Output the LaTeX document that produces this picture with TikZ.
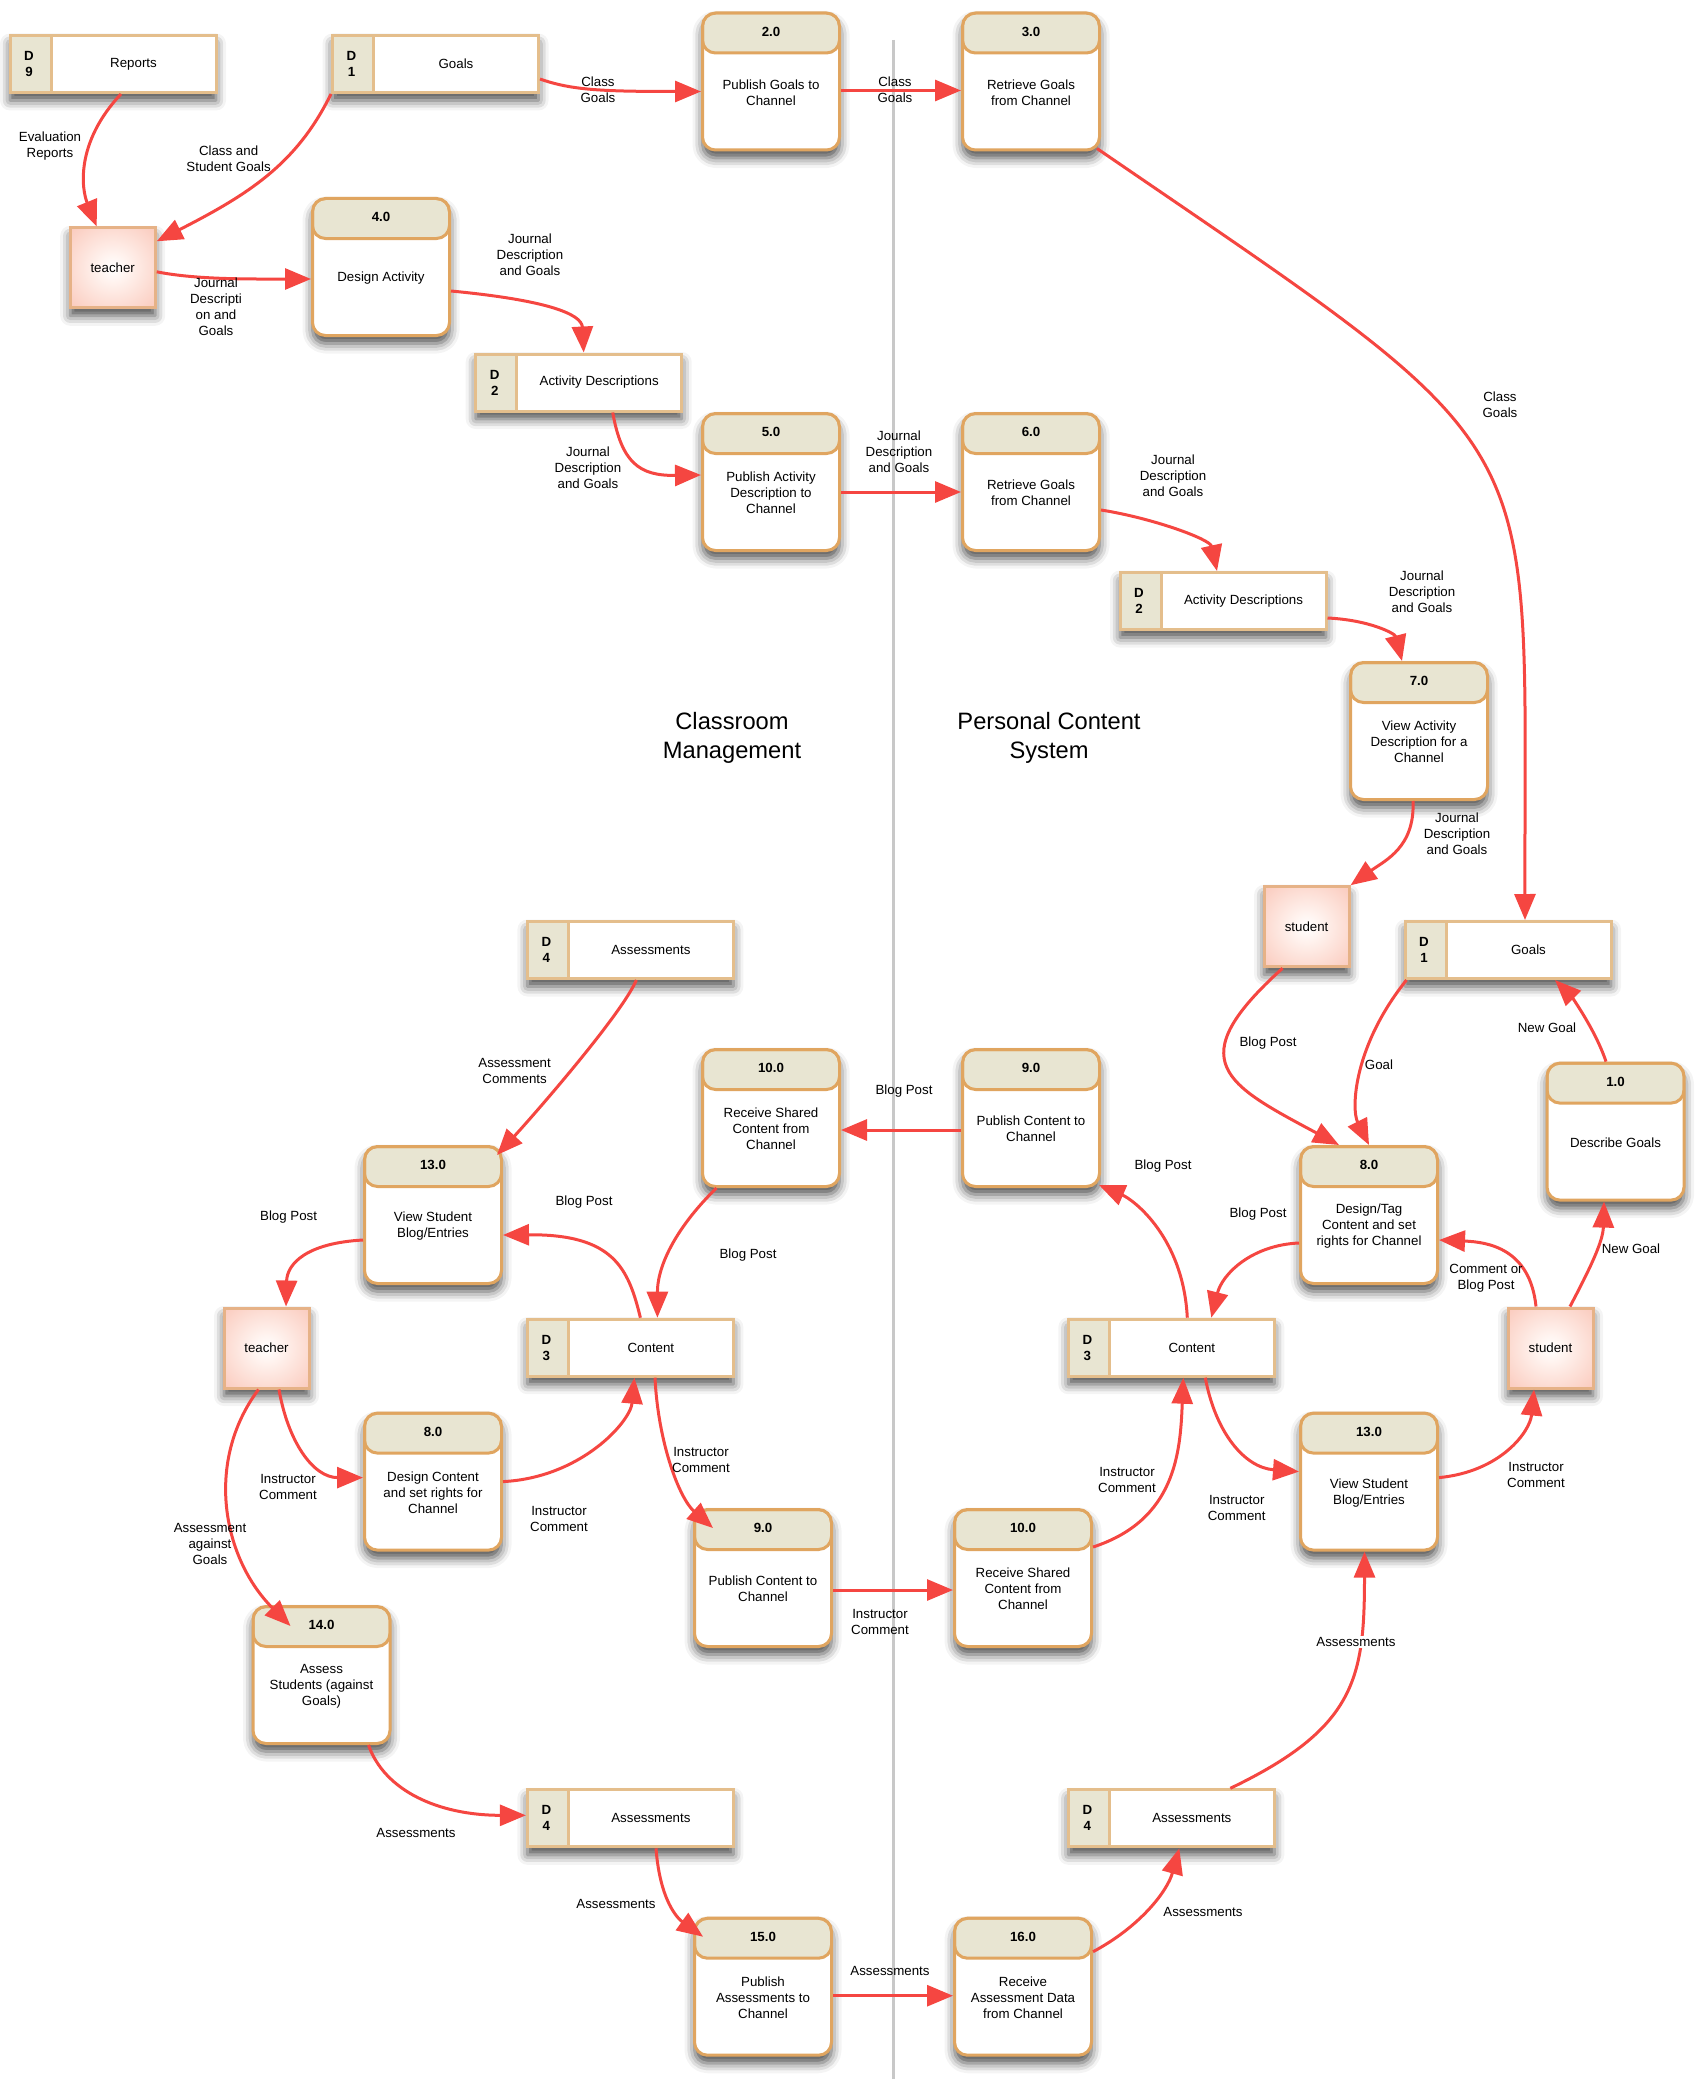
\documentclass[tikz,border=0pt]{standalone}
\usepackage{fontspec}
\setmainfont{Liberation Sans}
\usetikzlibrary{arrows.meta,shadows.blur}

\newlength{\du}
\setlength{\du}{1pt}

\definecolor{proctan}{RGB}{224,165,96}
\definecolor{storetan}{RGB}{228,190,140}
\definecolor{enttan}{RGB}{230,178,135}
\definecolor{prochead}{RGB}{232,229,210}
\definecolor{entpink}{RGB}{250,198,184}
\definecolor{entpinklight}{RGB}{255,244,240}
\definecolor{flowred}{RGB}{245,70,65}
\definecolor{sepgray}{RGB}{200,200,200}

\pgfdeclareradialshading{entshade}{\pgfpoint{0bp}{0bp}}{color(0bp)=(white); color(8bp)=(entpinklight); color(38bp)=(entpink); color(71bp)=(entpink)}

\newcommand{\dfdfont}{\fontsize{13.3}{16}\selectfont}
\newcommand{\dfdtitle}{\fontsize{23.7}{29}\selectfont}

% process: name, position, number, text
\newcommand{\dfdproc}[4]{%
  \node[proc] (#1) at (#2) {};
  \node[procnum] (#1num) at ([yshift=-20\du]#1.north) {#3};
  \node[proctxt] (#1txt) at ([yshift=-11\du]#1.center) {#4};}
% data store: name, position, number, text
\newcommand{\dfdstore}[4]{%
  \node[store] (#1) at (#2) {};
  \node[storeid] (#1id) at ([xshift=20.5\du]#1.west) {D\\#3};
  \node[storetxt] (#1txt) at ([xshift=20.5\du]#1.center) {#4};}

\tikzset{
  dfdshadow/.style={blur shadow={shadow xshift=0pt, shadow yshift=-8\du,
      shadow blur radius=10\du, shadow opacity=70}},
  proc/.style={draw=proctan, line width=3\du, fill=white, rounded corners=13\du,
    minimum width=137\du, minimum height=137\du, inner sep=0pt, dfdshadow,
    path picture={\draw[draw=proctan, line width=3\du, fill=prochead, rounded corners=13\du]
      (path picture bounding box.north west) rectangle
      ([yshift=-40\du]path picture bounding box.north east);}},
  procnum/.style={font=\dfdfont\bfseries, inner sep=0pt},
  proctxt/.style={font=\dfdfont, align=center, inner sep=0pt},
  store/.style={draw=storetan, line width=3\du, fill=white,
    minimum width=206\du, minimum height=57\du, inner sep=0pt, dfdshadow,
    path picture={\fill[prochead] (path picture bounding box.north west) rectangle
      ([xshift=41\du]path picture bounding box.south west);
      \draw[storetan, line width=3\du] ([xshift=41\du]path picture bounding box.north west)
      -- ([xshift=41\du]path picture bounding box.south west);}},
  storeid/.style={font=\dfdfont\bfseries, align=center, inner sep=0pt},
  storetxt/.style={font=\dfdfont, inner sep=0pt},
  entity/.style={draw=enttan, line width=3\du, shading=entshade,
    minimum width=85\du, minimum height=80\du, font=\dfdfont, dfdshadow},
  flow/.style={draw=flowred, line width=3\du, -{Triangle[length=26pt,width=21pt]}},
  flowlbl/.style={font=\dfdfont, align=center, inner sep=1\du},
  paneltitle/.style={font=\dfdtitle, align=center},
  sepline/.style={draw=sepgray, line width=3\du},
}

\begin{document}
\begin{tikzpicture}
\useasboundingbox (0\du,0\du) rectangle (1705\du,-2079\du);

% divider and titles
\coordinate (sepTop) at (893\du,-40\du);
\coordinate (sepBot) at (893\du,-2079\du);
\draw[sepline] (sepTop) -- (sepBot);
\node[paneltitle] (titleClass) at (732\du,-738\du) {Classroom\\Management};
\node[paneltitle] (titlePersonal) at (1049\du,-738\du) {Personal Content\\System};

% stores, processes, entities
\dfdstore{dsReports}{113\du,-64\du}{9}{Reports}
\dfdstore{dsGoalsA}{435.5\du,-64\du}{1}{Goals}
\dfdproc{pubGoals}{771\du,-81.5\du}{2.0}{Publish Goals to\\Channel}
\dfdproc{getGoals}{1031\du,-81.5\du}{3.0}{Retrieve Goals\\from Channel}
\node[entity] (teacherA) at (112.7\du,-267.8\du) {teacher};
\dfdproc{designAct}{381\du,-267\du}{4.0}{Design Activity}
\dfdstore{dsActA}{578.7\du,-382.5\du}{2}{Activity Descriptions}
\dfdproc{pubAct}{771\du,-482\du}{5.0}{Publish Activity\\Description to\\Channel}
\dfdproc{getAct}{1031\du,-482\du}{6.0}{Retrieve Goals\\from Channel}
\dfdstore{dsActB}{1223\du,-601\du}{2}{Activity Descriptions}
\dfdproc{viewAct}{1419\du,-731\du}{7.0}{View Activity\\Description for a\\Channel}
\node[entity] (studentA) at (1306.6\du,-926.7\du) {student};
\dfdstore{dsGoalsB}{1508\du,-950\du}{1}{Goals}
\dfdstore{dsAssessA}{630.4\du,-950\du}{4}{Assessments}
\dfdproc{recvContA}{771\du,-1118\du}{10.0}{Receive Shared\\Content from\\Channel}
\dfdproc{pubContA}{1031\du,-1118\du}{9.0}{Publish Content to\\Channel}
\dfdproc{tagCont}{1369\du,-1215\du}{8.0}{Design/Tag\\Content and set\\rights for Channel}
\dfdproc{descGoals}{1615.5\du,-1131.6\du}{1.0}{Describe Goals}
\dfdproc{viewBlogA}{433\du,-1215\du}{13.0}{View Student\\Blog/Entries}
\node[entity] (teacherB) at (266.5\du,-1348\du) {teacher};
\dfdstore{dsContA}{630.4\du,-1347.7\du}{3}{Content}
\dfdstore{dsContB}{1171.3\du,-1347.7\du}{3}{Content}
\node[entity] (studentB) at (1550.5\du,-1348\du) {student};
\dfdproc{designCont}{433\du,-1481.6\du}{8.0}{Design Content\\and set rights for\\Channel}
\dfdproc{viewBlogB}{1369\du,-1481.6\du}{13.0}{View Student\\Blog/Entries}
\dfdproc{pubContB}{763\du,-1578\du}{9.0}{Publish Content to\\Channel}
\dfdproc{recvContB}{1023\du,-1578\du}{10.0}{Receive Shared\\Content from\\Channel}
\dfdproc{assess}{321.5\du,-1675\du}{14.0}{Assess\\Students (against\\Goals)}
\dfdstore{dsAssessB}{630.4\du,-1818.3\du}{4}{Assessments}
\dfdstore{dsAssessC}{1171.3\du,-1818.3\du}{4}{Assessments}
\dfdproc{pubAssess}{763\du,-1986.7\du}{15.0}{Publish\\Assessments to\\Channel}
\dfdproc{recvAssess}{1023\du,-1986.7\du}{16.0}{Receive\\Assessment Data\\from Channel}

% flows, classroom side
\draw[flow] ([xshift=8\du]dsReports.south) .. controls +(-46\du,-49\du) and +(-15\du,37\du) .. ([xshift=-16\du]teacherA.north);
\draw[flow] (dsGoalsA.south west) .. controls +(-34\du,-69\du) and +(94\du,48\du) .. ([yshift=-15\du]teacherA.north east);
\draw[flow] ([yshift=-15\du]dsGoalsA.east) .. controls +(31\du,-11\du) and +(-100\du,0\du) .. ([yshift=-10\du]pubGoals.west);
\draw[flow] ([yshift=-9\du]pubGoals.east) -- ([yshift=-9\du]getGoals.west);
\draw[flow] ([xshift=-4\du,yshift=3\du]getGoals.south east) .. controls +(460\du,-315\du) and +(-1\du,501.5\du) .. ([xshift=17\du]dsGoalsB.north);
\draw[flow] ([yshift=-4\du]teacherA.east) .. controls +(40\du,-8\du) and +(-60\du,0\du) .. ([yshift=-12\du]designAct.west);
\draw[flow] ([yshift=-24\du]designAct.east) .. controls +(94\du,-9\du) and +(-2\du,39\du) .. ([xshift=5\du]dsActA.north);
\draw[flow] ([xshift=34\du]dsActA.south) .. controls +(9\du,-50\du) and +(-62\du,-1\du) .. ([yshift=7\du]pubAct.west);
\draw[flow] ([yshift=-10\du]pubAct.east) -- ([yshift=-10\du]getAct.west);
\draw[flow] ([yshift=-28\du]getAct.east) .. controls +(51\du,-8\du) and +(-7\du,32\du) .. ([xshift=-6\du]dsActB.north);
\draw[flow] ([yshift=-17\du]dsActB.east) .. controls +(42\du,-2\du) and +(-7\du,27.5\du) .. ([xshift=-17\du]viewAct.north);
\draw[flow] ([xshift=-6\du]viewAct.south) .. controls +(2\du,-46\du) and +(35\du,25\du) .. (studentA.north east);

% flows, content side
\draw[flow] ([xshift=-24\du]studentA.south) .. controls +(-103\du,-93\du) and +(-114\du,61\du) .. ([xshift=-30\du]tagCont.north);
\draw[flow] ([xshift=3\du]dsGoalsB.south west) .. controls +(-53\du,-66\du) and +(-18\du,36\du) .. (tagCont.north);
\draw[flow] ([xshift=-9.5\du]descGoals.north) .. controls +(-11\du,33\du) and +(15\du,-15\du) .. ([xshift=47\du]dsGoalsB.south);
\draw[flow] ([xshift=19.5\du]studentB.north) .. controls +(20\du,38\du) and +(-1\du,-40\du) .. ([xshift=-11.5\du]descGoals.south);
\draw[flow] ([xshift=-14.5\du]studentB.north) .. controls +(-6\du,58\du) and +(49\du,-2\du) .. ([yshift=-25\du]tagCont.east);
\draw[flow] ([yshift=-28\du]tagCont.west) .. controls +(-47\du,-2\du) and +(11\du,44\du) .. ([xshift=40\du]dsContB.north);
\draw[flow] ([xshift=16\du]dsContB.north) .. controls +(-4\du,80\du) and +(35\du,-15\du) .. ([xshift=-2\du,yshift=3\du]pubContA.south east);
\draw[flow] ([yshift=-12\du]pubContA.west) -- ([yshift=-12\du]recvContA.east);
\draw[flow] ([xshift=15.5\du]recvContA.south west) .. controls +(-38\du,-37\du) and +(0\du,54\du) .. ([xshift=27\du]dsContA.north);
\draw[flow] ([xshift=6\du]dsAssessA.south) .. controls +(-15\du,-35\du) and +(35\du,38\du) .. ([xshift=-6\du,yshift=-10\du]viewBlogA.north east);
\draw[flow] ([xshift=10\du]dsContA.north) .. controls +(-12\du,49\du) and +(111\du,1\du) .. ([yshift=-20\du]viewBlogA.east);
\draw[flow] ([yshift=-25\du]viewBlogA.west) .. controls +(-56\du,-3\du) and +(1\du,43\du) .. ([xshift=19.5\du]teacherB.north);
\draw[flow] ([xshift=12.5\du]teacherB.south) .. controls +(9\du,-52\du) and +(-50\du,0\du) .. ([yshift=4\du]designCont.west);
\draw[flow] ([xshift=-8\du]teacherB.south) .. controls +(-54\du,-72\du) and +(-68\du,68\du) .. ([xshift=-31\du,yshift=-21\du]assess.north);
\draw[flow] (designCont.east) .. controls +(78\du,4\du) and +(-4\du,-44\du) .. ([xshift=4\du]dsContA.south);
\draw[flow] ([xshift=24.6\du]dsContA.south) .. controls +(3\du,-64\du) and +(-34\du,30\du) .. ([xshift=20\du,yshift=-20\du]pubContB.north west);
\draw[flow] ([yshift=-12\du]pubContB.east) -- ([yshift=-12\du]recvContB.west);
\draw[flow] ([yshift=31\du]recvContB.east) .. controls +(83\du,27\du) and +(-3\du,-74\du) .. ([xshift=12\du]dsContB.south);
\draw[flow] ([xshift=34\du]dsContB.south) .. controls +(10\du,-54\du) and +(-55\du,4\du) .. ([yshift=10\du]viewBlogB.west);
\draw[flow] ([yshift=4\du]viewBlogB.east) .. controls +(62\du,6\du) and +(-4\du,-42\du) .. ([xshift=-16.5\du]studentB.south);
\draw[flow] ([xshift=59\du]dsAssessC.north) .. controls +(125\du,60\du) and +(0\du,-127\du) .. ([xshift=-4.5\du]viewBlogB.south);
\draw[flow] ([xshift=47\du]assess.south) .. controls +(16\du,-46\du) and +(-87\du,0\du) .. ([yshift=3\du]dsAssessB.west);
\draw[flow] ([xshift=25.6\du]dsAssessB.south) .. controls +(4\du,-53\du) and +(-25\du,18\du) .. ([xshift=10\du,yshift=-20\du]pubAssess.north west);
\draw[flow] ([yshift=-9\du]pubAssess.east) -- ([yshift=-9\du]recvAssess.west);
\draw[flow] ([yshift=-35\du]recvAssess.north east) .. controls +(47\du,25\du) and +(-12\du,-43\du) .. ([xshift=8\du]dsAssessC.south);

% labels
\node[flowlbl] (lEvalRep) at (50\du,-146\du) {Evaluation\\Reports};
\node[flowlbl] (lClassStud) at (228.6\du,-159\du) {Class and\\Student Goals};
\node[flowlbl] (lClassGoalsA) at (598\du,-90\du) {Class\\Goals};
\node[flowlbl] (lClassGoalsB) at (895\du,-90\du) {Class\\Goals};
\node[flowlbl] (lClassGoalsC) at (1500\du,-405\du) {Class\\Goals};
\node[flowlbl] (lJournalA) at (216\du,-307\du) {Journal\\Descripti\\on and\\Goals};
\node[flowlbl] (lJournalB) at (530\du,-255\du) {Journal\\Description\\and Goals};
\node[flowlbl] (lJournalC) at (588\du,-468\du) {Journal\\Description\\and Goals};
\node[flowlbl] (lJournalD) at (899\du,-452\du) {Journal\\Description\\and Goals};
\node[flowlbl] (lJournalE) at (1173\du,-476\du) {Journal\\Description\\and Goals};
\node[flowlbl] (lJournalF) at (1422\du,-592\du) {Journal\\Description\\and Goals};
\node[flowlbl] (lJournalG) at (1457\du,-834\du) {Journal\\Description\\and Goals};
\node[flowlbl] (lBlogA) at (1268\du,-1043\du) {Blog Post};
\node[flowlbl] (lGoal) at (1379\du,-1065\du) {Goal};
\node[flowlbl] (lNewGoalA) at (1547\du,-1028\du) {New Goal};
\node[flowlbl] (lNewGoalB) at (1631\du,-1249\du) {New Goal};
\node[flowlbl] (lCommentBlog) at (1486\du,-1278\du) {Comment or\\Blog Post};
\node[flowlbl] (lBlogB) at (1258\du,-1214\du) {Blog Post};
\node[flowlbl] (lBlogC) at (1163\du,-1166\du) {Blog Post};
\node[flowlbl] (lBlogD) at (904\du,-1091\du) {Blog Post};
\node[flowlbl] (lBlogE) at (748\du,-1255\du) {Blog Post};
\node[flowlbl] (lAssessCom) at (514.6\du,-1071\du) {Assessment\\Comments};
\node[flowlbl] (lBlogF) at (584\du,-1202\du) {Blog Post};
\node[flowlbl] (lBlogG) at (288.6\du,-1217.5\du) {Blog Post};
\node[flowlbl] (lInstrA) at (288\du,-1487\du) {Instructor\\Comment};
\node[flowlbl] (lAssessGoals) at (210\du,-1544\du) {Assessment\\against\\Goals};
\node[flowlbl] (lInstrB) at (559\du,-1519\du) {Instructor\\Comment};
\node[flowlbl] (lInstrC) at (701\du,-1460\du) {Instructor\\Comment};
\node[flowlbl] (lInstrD) at (880\du,-1621.5\du) {Instructor\\Comment};
\node[flowlbl] (lInstrE) at (1127\du,-1480\du) {Instructor\\Comment};
\node[flowlbl] (lInstrF) at (1236.7\du,-1508\du) {Instructor\\Comment};
\node[flowlbl] (lInstrG) at (1536\du,-1475\du) {Instructor\\Comment};
\node[flowlbl, fill=white] (lAssessA) at (1356\du,-1642\du) {Assessments};
\node[flowlbl] (lAssessB) at (416\du,-1833\du) {Assessments};
\node[flowlbl] (lAssessC) at (616\du,-1904\du) {Assessments};
\node[flowlbl] (lAssessD) at (890\du,-1970.7\du) {Assessments};
\node[flowlbl] (lAssessE) at (1203\du,-1912\du) {Assessments};
\end{tikzpicture}
\end{document}
